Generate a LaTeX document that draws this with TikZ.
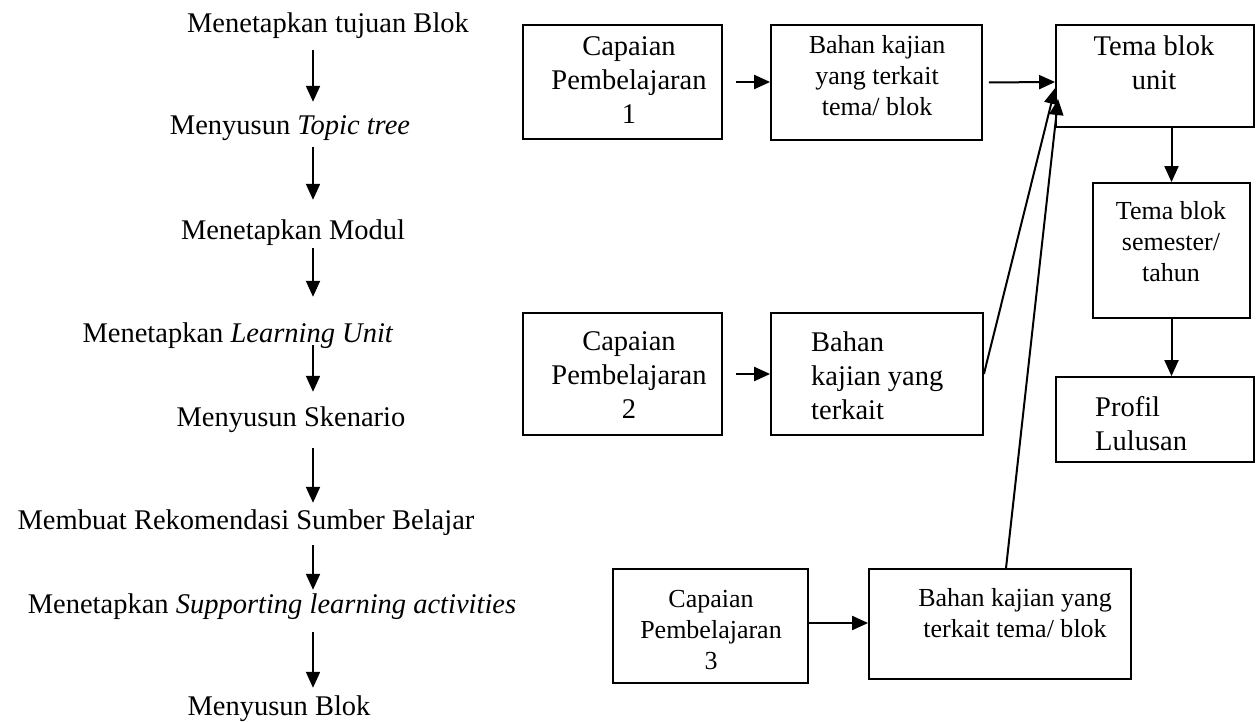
\documentclass[tikz,border=0pt]{standalone}
\usepackage{fontspec}
\setmainfont{Liberation Serif}
\usetikzlibrary{arrows.meta}
\tikzstyle{t}=[font=\fontsize{28.5}{33}\selectfont,inner sep=0pt,text height=20pt,text depth=6pt]
\tikzstyle{b}=[draw,line width=1.8pt,inner sep=0pt]
\tikzstyle{w}=[align=center,inner sep=0pt,font=\fontsize{28.5}{34}\selectfont]
\tikzstyle{ws}=[w,font=\fontsize{26}{31}\selectfont]
\tikzstyle{a}=[-{Triangle[length=16pt,width=14pt]},line width=2pt]

\begin{document}
\begin{tikzpicture}[x=1pt,y=-1pt]
\useasboundingbox (0,0) rectangle (1257,722);

                        % steps on the left
                        \node[t] (t1) at (328,26) {Menetapkan tujuan Blok};
                        \node[t] (t2) at (290,128) {Menyusun \textit{Topic tree}};
                        \node[t] (t3) at (293,232) {Menetapkan Modul};
                        \node[t] (t4) at (238,335) {Menetapkan \textit{Learning Unit}};
                        \node[t] (t5) at (291,419) {Menyusun Skenario};
                        \node[t] (t6) at (246,522) {Membuat Rekomendasi Sumber Belajar};
                        \node[t] (t7) at (272,606) {Menetapkan \textit{Supporting learning activities}};
                        \node[t] (t8) at (279,708) {Menyusun Blok};
                        \coordinate (ax) at (313,0);

                        \draw[a,shorten <=11pt,shorten >=13pt] (t1.south -| ax) -- (t2.north -| ax);
                        \draw[a,shorten <=6pt,shorten >=19pt] (t2.south -| ax) -- (t3.north -| ax);
                        \draw[a,shorten <=3pt,shorten >=25pt] (t3.south -| ax) -- (t4.north -| ax);
                        \draw[a,shorten <=-3pt,shorten >=14pt] (t4.south -| ax) -- (t5.north -| ax);
                        \draw[a,shorten <=16pt,shorten >=6pt] (t5.south -| ax) -- (t6.north -| ax);
                        \draw[a,shorten <=10pt,shorten >=3pt] (t6.south -| ax) -- (t7.north -| ax);
                        \draw[a,shorten <=13pt,shorten >=7pt] (t7.south -| ax) -- (t8.north -| ax);

                        % boxes on the right
                        \node[b,minimum width=199pt,minimum height=114pt] (c1) at (622.5,82) {};
                        \node[b,minimum width=211pt,minimum height=115pt] (k1) at (876.5,82.5) {};
                        \node[b,minimum width=198pt,minimum height=102pt] (u) at (1155,76) {};
                        \node[b,minimum width=157pt,minimum height=135pt] (s) at (1171.5,250.5) {};
                        \node[b,minimum width=198pt,minimum height=85pt] (p) at (1155,419.5) {};
                        \node[b,minimum width=199pt,minimum height=122pt] (c2) at (622.5,374) {};
                        \node[b,minimum width=212pt,minimum height=122pt] (k2) at (877,374) {};
                        \node[b,minimum width=195pt,minimum height=114pt] (c3) at (710.5,626) {};
                        \node[b,minimum width=262pt,minimum height=110pt] (k3) at (1000,624) {};

                        % texts in the boxes
                        \node[w] (c1t) at (629,80) {Capaian\\Pembelajaran\\1};
                        \node[ws] (k1t) at (877,76) {Bahan kajian\\yang terkait\\tema/ blok};
                        \node[w] (ut) at (1154,62.5) {Tema blok\\unit};
                        \node[ws] (st) at (1171,241.5) {Tema blok\\semester/\\tahun};
                        \node[w,align=left,anchor=west] (pt) at (1095,424) {Profil\\Lulusan};
                        \node[w] (c2t) at (629,375) {Capaian\\Pembelajaran\\2};
                        \node[w,align=left,anchor=west] (k2t) at (811,375.5) {Bahan\\kajian yang\\terkait};
                        \node[ws] (c3t) at (711,630) {Capaian\\Pembelajaran\\3};
                        \node[ws] (k3t) at (1015,613) {Bahan kajian yang\\terkait tema/ blok};

                        \draw[a,shorten <=13pt] (c1.east) -- (c1.east -| k1.west);
                        \draw[a,shorten <=13pt] (c2.east) -- (c2.east -| k2.west);
                        \draw[a] ([yshift=3pt]c3.east) -- ([yshift=3pt]c3.east -| k3.west);
                        \draw[a,shorten <=6pt] (k1.east) -- ([yshift=-6pt]u.west);
                        \draw[a] (k2.east) -- ([yshift=-12pt]u.west);
                        \draw[a] ([xshift=6pt]k3.north) -- ([shift={(3pt,-23pt)}]u.west);
                        \draw[a] (s.north |- u.south) -- (s.north);
                        \draw[a] (s.south) -- (s.south |- p.north);

\end{tikzpicture}
\end{document}
